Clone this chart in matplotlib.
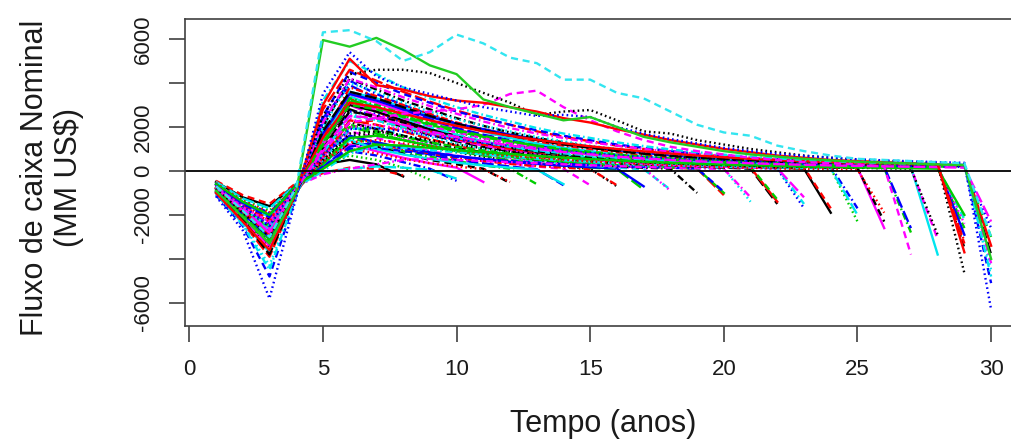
import matplotlib; matplotlib.use("Agg"); import matplotlib.pyplot as plt

# fluxo de caixa nominal (MM US$) por cenario; cada lista comeca no ano 1 e
# termina no ano de abandono (ultimo valor = custo de abandono, negativo)
curtos = [
    [-500, -1200, -1600, -600, 300, 500, 300, -250],
    [-450, -1100, -1500, -550, -100, 150, 100, -200],
    [-550, -1300, -1800, -650, 200, 700, 500, 150, -400],
    [-600, -1400, -1900, -700, 100, 900, 700, 400, 100, -450],
    [-500, -1250, -1700, -600, -50, 100, 200, 150, 50, -350],
    [-650, -1500, -2000, -700, 400, 1200, 900, 600, 350, 150, -500],
    [-700, -1600, -2200, -750, 300, 1300, 1100, 800, 500, 300, 100, -550],
    [-550, -1350, -1900, -650, 600, 1000, 800, 550, 350, 200, 80, -500],
    [-650, -1500, -2100, -700, 500, 1500, 1200, 900, 650, 450, 250, 100, -600],
    [-750, -1700, -2400, -800, 200, 1100, 1300, 1000, 750, 500, 350, 200, 80, -650],
    [-600, -1450, -2100, -700, 300, 1400, 1000, 750, 550, 380, 250, 150, 60, -600],
    [-700, -1600, -2300, -750, 600, 1800, 1500, 1200, 900, 700, 500, 350, 200, 100, -650],
    [-800, -1800, -2600, -850, 400, 1600, 1700, 1400, 1100, 850, 650, 450, 300, 200, 100, -700],
    [-650, -1550, -2200, -700, 100, 900, 1200, 1000, 800, 600, 450, 320, 220, 150, 80, -650],
    [-750, -1700, -2500, -750, 700, 2000, 1700, 1400, 1150, 900, 700, 500, 350, 250, 150, 80, -850],
    [-600, -1450, -2000, -650, 800, 1600, 1300, 1050, 850, 680, 540, 420, 320, 240, 170, 110, -700],
]
medios = [
    [-800, -1900, -2700, -850, 500, 1900, 2000, 1600, 1300, 1000, 800, 600, 450, 350, 250, 150, 80, -850],
    [-700, -1650, -2400, -750, 900, 2400, 1900, 1500, 1200, 950, 750, 580, 450, 350, 260, 190, 130, -900],
    [-850, -2000, -2800, -900, 800, 2200, 1900, 1600, 1300, 1050, 850, 650, 500, 400, 300, 200, 150, 100, -1000],
    [-800, -1900, -2900, -950, 600, 2300, 2100, 1800, 1450, 1150, 900, 700, 550, 450, 350, 250, 200, 150, 100, -1100],
    [-750, -1750, -2600, -800, 300, 1500, 1600, 1400, 1150, 950, 780, 640, 520, 420, 340, 270, 210, 160, 110, -1000],
    [-640, -1500, -2100, -650, 200, 1000, 1050, 900, 760, 640, 540, 450, 380, 320, 270, 220, 180, 140, 110, -950],
    [-900, -2100, -3100, -950, 900, 2600, 2300, 1900, 1550, 1250, 1000, 800, 650, 500, 400, 300, 250, 200, 150, 100, -1400],
    [-700, -1650, -2300, -700, -150, 100, 300, 500, 550, 500, 450, 400, 350, 300, 260, 220, 180, 150, 120, 90, -1200],
    [-850, -2000, -3000, -900, 1000, 2800, 2400, 2000, 1650, 1350, 1100, 900, 700, 550, 450, 350, 300, 250, 200, 150, 100, -1500],
    [-800, -1850, -2700, -850, 1300, 3300, 2700, 2200, 1800, 1450, 1200, 980, 800, 650, 530, 430, 360, 300, 250, 200, 150, -1400],
    [-760, -1800, -2600, -800, 1100, 2100, 1800, 1550, 1300, 1100, 930, 790, 670, 570, 480, 410, 350, 300, 260, 220, 190, -1300],
    [-900, -2100, -3200, -950, 800, 2700, 2600, 2200, 1800, 1500, 1250, 1000, 800, 650, 550, 450, 350, 300, 250, 200, 150, 100, -1700],
    [-750, -1750, -2500, -750, 0, 800, 1100, 1050, 950, 850, 750, 650, 560, 480, 410, 350, 300, 260, 220, 180, 150, 120, -1500],
    [-780, -1850, -2650, -800, 1600, 3000, 2500, 2050, 1700, 1400, 1150, 950, 780, 640, 520, 420, 340, 280, 230, 190, 150, 120, -1200],
    [-950, -2200, -3300, -1000, 1200, 3000, 2700, 2300, 1900, 1600, 1300, 1050, 850, 700, 600, 500, 400, 350, 300, 250, 200, 150, 100, -1900],
    [-850, -1950, -2900, -900, 700, 2200, 2300, 2000, 1700, 1450, 1200, 1000, 850, 700, 580, 480, 400, 340, 290, 250, 210, 180, 150, -1700],
    [-900, -2100, -3400, -1050, 1100, 3200, 2900, 2500, 2100, 1750, 1450, 1200, 1000, 800, 650, 550, 450, 400, 350, 300, 250, 200, 150, 120, -2300],
    [-800, -1900, -2800, -850, 2200, 4100, 3500, 3000, 2550, 2150, 1800, 1500, 1250, 1050, 880, 740, 620, 520, 440, 380, 330, 280, 240, 200, -1700],
    [-820, -1950, -2950, -900, 1900, 3400, 2900, 2400, 2000, 1650, 1350, 1100, 900, 740, 610, 500, 410, 340, 280, 230, 190, 160, 130, 110, -2000],
    [-1000, -2300, -3600, -1050, 1500, 3500, 3100, 2700, 2300, 1900, 1600, 1350, 1100, 900, 750, 600, 500, 450, 400, 350, 300, 250, 200, 170, 150, -2600],
    [-850, -2000, -3000, -900, 1000, 2700, 2500, 2200, 1850, 1550, 1300, 1100, 900, 750, 620, 520, 440, 380, 330, 290, 250, 220, 190, 160, 130, -2300],
    [-680, -1600, -2300, -700, 400, 1300, 1400, 1250, 1100, 950, 820, 700, 600, 510, 430, 360, 300, 250, 210, 170, 140, 110, 90, 70, 60, -1900],
    [-950, -2200, -3500, -1000, 1300, 3300, 3000, 2600, 2200, 1850, 1550, 1300, 1050, 900, 750, 600, 500, 450, 400, 350, 300, 250, 200, 180, 150, 120, -2800],
    [-880, -2050, -3100, -950, 2400, 3900, 3300, 2800, 2350, 1950, 1650, 1400, 1200, 1000, 850, 720, 610, 520, 450, 390, 340, 300, 260, 230, 200, 180, -2600],
    [-1000, -2300, -3700, -1050, 1400, 3600, 3300, 2900, 2500, 2100, 1800, 1500, 1250, 1050, 900, 750, 650, 550, 500, 450, 400, 350, 300, 250, 220, 200, 180, -3800],
    [-950, -2200, -3400, -950, 1200, 3100, 2800, 2400, 2050, 1750, 1500, 1250, 1050, 900, 750, 650, 550, 480, 420, 370, 330, 290, 250, 220, 200, 170, 150, -3100],
    [-720, -1700, -2500, -750, 500, 1700, 1800, 1600, 1400, 1200, 1030, 880, 750, 640, 550, 470, 400, 340, 300, 260, 230, 200, 180, 160, 140, 120, 100, -2900],
]
longos = [
    [-900, -2100, -3300, -950, 1500, 3800, 3400, 3000, 2600, 2200, 1900, 1600, 1350, 1150, 1000, 850, 700, 600, 520, 450, 400, 350, 310, 280, 250, 230, 210, 190, -3200],
    [-850, -2000, -3100, -850, 1200, 3200, 2900, 2500, 2150, 1850, 1600, 1350, 1150, 950, 820, 700, 600, 520, 460, 400, 360, 320, 290, 260, 240, 220, 200, 180, -2600],
    [-820, -1950, -3000, -900, 1700, 3500, 3200, 2800, 2450, 2150, 1900, 1650, 1450, 1250, 1100, 950, 820, 710, 620, 540, 470, 410, 360, 320, 290, 260, 240, 220, -2900],
    [-750, -1800, -2700, -800, 800, 2500, 2300, 2000, 1750, 1500, 1300, 1100, 950, 800, 700, 600, 520, 450, 400, 350, 320, 290, 260, 240, 220, 200, 180, 160, -2200],
    [-700, -1650, -2450, -750, 600, 2000, 2100, 1900, 1700, 1500, 1320, 1160, 1020, 900, 790, 690, 600, 530, 470, 420, 370, 330, 300, 270, 250, 230, 210, 190, -2400],
    [-950, -2200, -3500, -1000, 2000, 4200, 3700, 3200, 2800, 2400, 2050, 1750, 1500, 1300, 1100, 950, 800, 700, 600, 520, 460, 410, 370, 330, 300, 270, 250, 230, -3500],
    [-1000, -2350, -3900, -1050, 2800, 4600, 4100, 3600, 3150, 2750, 2400, 2100, 1800, 1550, 1350, 1150, 1000, 870, 760, 660, 580, 510, 450, 400, 360, 330, 300, 270, -3300],
    [-600, -1400, -2000, -650, 100, 900, 1200, 1150, 1050, 950, 860, 770, 690, 610, 540, 480, 420, 370, 330, 290, 260, 230, 200, 180, 160, 140, 120, 100, -2000],
    [-1100, -2500, -4800, -1150, 2500, 4500, 4000, 3500, 3100, 2700, 2400, 2100, 1850, 1600, 1400, 1200, 1050, 900, 780, 680, 600, 530, 470, 420, 380, 350, 320, 300, 280, -5100],
    [-1000, -2400, -4300, -1100, 2000, 4000, 3600, 3100, 2700, 2350, 2050, 1800, 1550, 1350, 1150, 1000, 870, 760, 660, 580, 510, 450, 400, 360, 330, 300, 280, 260, 240, -4500],
    [-920, -2150, -3500, -950, 2200, 4200, 3800, 3350, 2950, 2600, 2250, 1950, 1700, 1500, 1300, 1150, 1000, 880, 780, 690, 610, 540, 480, 430, 390, 350, 320, 290, 270, -4200],
    [-950, -2200, -3800, -1000, 1800, 3600, 3300, 2900, 2500, 2150, 1850, 1600, 1400, 1200, 1050, 900, 780, 680, 600, 530, 470, 420, 380, 340, 310, 280, 260, 240, 220, -3800],
    [-780, -1850, -2900, -800, 1500, 3100, 2900, 2600, 2300, 2050, 1800, 1600, 1420, 1260, 1120, 1000, 890, 790, 700, 620, 550, 490, 440, 400, 360, 330, 300, 280, 260, -3400],
    [-850, -2000, -3200, -900, 1300, 3000, 2800, 2450, 2100, 1800, 1550, 1350, 1150, 1000, 870, 750, 650, 570, 500, 440, 390, 350, 320, 290, 260, 240, 220, 200, 180, -3000],
    [-680, -1600, -2500, -700, 700, 1900, 1950, 1800, 1600, 1430, 1280, 1140, 1010, 900, 800, 710, 630, 560, 500, 450, 400, 360, 320, 290, 260, 240, 220, 200, 180, -2600],
    [-1050, -2450, -4500, -1100, 3200, 5000, 4400, 3800, 3300, 2900, 2550, 2250, 1950, 1700, 1500, 1300, 1130, 980, 850, 740, 650, 570, 500, 440, 400, 360, 330, 300, 280, -4800],
    [-750, -1800, -2800, -800, 1000, 2500, 2400, 2100, 1800, 1550, 1350, 1150, 1000, 860, 750, 650, 570, 500, 440, 390, 350, 310, 280, 250, 230, 210, 190, 170, 150, -2300],
]
# cenarios que se destacam do feixe
ciano = [-700, -1800, -3000, -750, 6300, 6400, 5900, 5000, 5400, 6200, 5800, 5150, 4900, 4150, 4150, 3550, 3300,
         2700, 2100, 1750, 1600, 1150, 900, 700, 550, 500, 450, 400, 350, -3000]
verde = [-900, -2100, -3300, -950, 5950, 5650, 6050, 5500, 4800, 4400, 3250, 2900, 2600, 2300, 2450, 2000, 1550,
         1300, 1100, 900, 750, 650, 550, 480, 420, 380, 340, 300, 270, -4000]
rosa = [-700, -1700, -2800, -800, 900, 2200, 2400, 2600, 2700, 2800, 3000, 3500, 3650, 2900, 2300, 1800, 1400,
        1100, 900, 750, 600, 500, 400, 350, 300, 200, -3800]
preto = [-800, -1900, -3000, -850, 2500, 4400, 4600, 4600, 4450, 4000, 3550, 3100, 2550, 2700, 2770, 2300, 1800,
         1700, 1400, 1200, 1000, 850, 700, 600, 500, 450, 400, 350, -4650]
vermelho = [-1000, -2300, -3600, -1000, 3000, 5100, 3900, 3700, 3400, 3200, 3100, 2900, 2700, 2400, 2200, 1900,
            1650, 1400, 1200, 1000, 850, 700, 600, 500, 450, 400, 350, 300, -3700]
azul = [-1150, -2700, -5800, -1200, 3500, 5400, 4300, 3800, 3500, 3200, 2900, 2700, 2500, 2550, 2450, 2000, 1700,
        1450, 1250, 1050, 900, 780, 680, 600, 530, 480, 440, 400, 370, -6300]

anos = list(range(1, 31))
xticks = [0, 5, 10, 15, 20, 25, 30]
yticks = [-6000, -4000, -2000, 0, 2000, 4000, 6000]
ylabels = ["-6000", "", "-2000", "0", "2000", "", "6000"]

# paleta/tipos de linha do matplot do R (col=1:6, lty=1:5)
PAL = ["black", "red", "#00CD00", "blue", "#00E5EE", "magenta"]
LTY = ["-", (0, (3, 2)), (0, (0.7, 1.3)), (0, (0.7, 1.3, 3, 1.3)), (0, (5, 1.6))]
LW = 1.7

plt.rcParams["font.family"] = ["Liberation Sans", "DejaVu Sans"]
fig = plt.figure(figsize=(10.11, 4.41), dpi=100)
ax = fig.add_axes([0.183, 0.261, 0.828, 0.696])

for i, s in enumerate(curtos + medios + longos):
    ax.plot(anos[:len(s)], s, color=PAL[i % 6], ls=LTY[i % 5], lw=LW)
for s, c, l in [(rosa, "magenta", LTY[1]), (preto, "black", LTY[2]), (vermelho, "red", "-"),
                (azul, "blue", LTY[2]), (verde, "#22CC22", "-"), (ciano, "#33E5F0", LTY[1])]:
    ax.plot(anos[:len(s)], s, color=c, ls=l, lw=LW)
ax.axhline(0, color="black", lw=1.3)

ax.set_xlim(-0.16, 31.16); ax.set_ylim(-7045, 6909)
ax.set_xticks(xticks); ax.set_yticks(yticks)
ax.set_yticklabels(ylabels, rotation=90, va="center")
for sp in ax.spines.values():
    sp.set_color("#404040"); sp.set_linewidth(1.2)
ax.tick_params(direction="out", length=11.5, width=1.2, color="#404040", labelsize=16, labelcolor="#1a1a1a")
ax.tick_params(axis="x", pad=12); ax.tick_params(axis="y", pad=11)

fig.text(52 / 1011, 1 - 178 / 441, "Fluxo de caixa Nominal\n(MM US\\$)", rotation=90, ha="center", va="center",
         fontsize=22, color="#1a1a1a", linespacing=1.15)
fig.text(603 / 1011, 1 - 424 / 441, "Tempo (anos)", ha="center", va="center", fontsize=22, color="#1a1a1a")

fig.savefig("out.png", dpi=100)
